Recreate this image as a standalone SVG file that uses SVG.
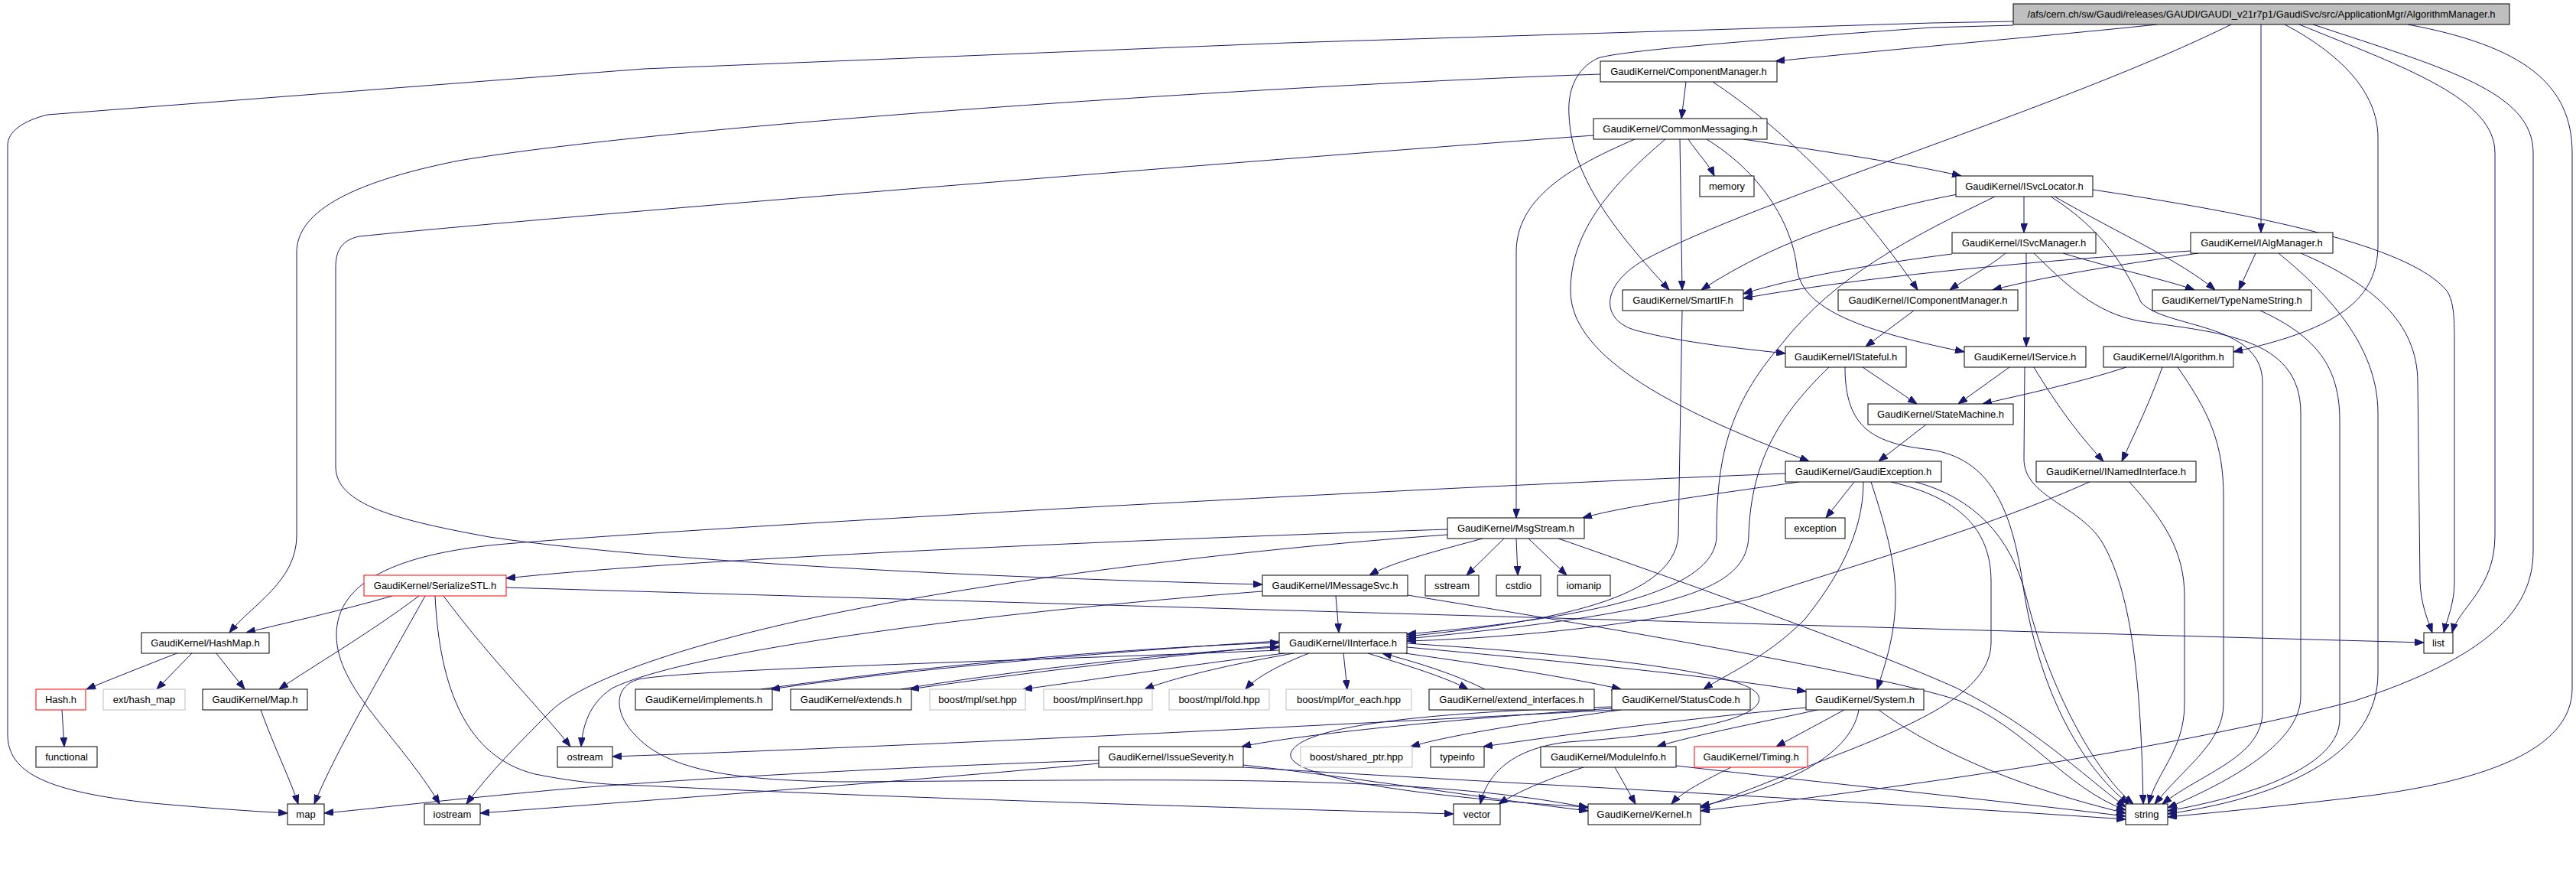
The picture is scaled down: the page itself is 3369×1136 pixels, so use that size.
<svg xmlns="http://www.w3.org/2000/svg" width="3369" height="1136" viewBox="0 0 3369 1136">
<defs>
<marker id="ah" markerWidth="12" markerHeight="9" refX="12" refY="4.5" orient="auto" markerUnits="userSpaceOnUse"><path d="M0,0 L12,4.5 L0,9 z" fill="#191970" stroke="#191970" stroke-width="1"/></marker>
<style>
.n rect{fill:#fff;stroke:#000;stroke-width:1}
.n.g rect{stroke:#bfbfbf}
.n.r rect{stroke:#ff0000}
.n.top rect{fill:#bfbfbf;stroke:#000}
text{font-family:"Liberation Sans",Arial,sans-serif;font-size:13px;text-anchor:middle;fill:#000}
.e path{fill:none;stroke:#191970;stroke-width:1;marker-end:url(#ah)}
</style>
</defs>
<rect x="0" y="0" width="3369" height="1136" fill="#fff"/>
<g id="edges" class="e">
<path d="M2633,28 L2526,30 L1684,56 L842,90 L62,150 C30,158 10,172 10,190 L10,960 C10,1010 60,1035 200,1050 C290,1058 340,1061 376,1063"/>
<path d="M2633,33 L2526,36 C2300,52 2120,66 2090,76 C2060,90 2050,120 2052,150 C2055,230 2110,300 2183,379"/>
<path d="M2821,32 C2700,45 2500,62 2322,80"/>
<path d="M2918,32 C2700,140 2300,260 2150,340 C2090,375 2095,420 2140,432 C2200,448 2280,456 2335,462"/>
<path d="M2957,32 L2957,304"/>
<path d="M2988,32 C3060,70 3110,120 3110,180 L3110,320 C3110,390 3060,430 2921,460"/>
<path d="M3007,32 C3150,90 3263,130 3263,200 L3263,700 C3263,770 3215,795 3207,827"/>
<path d="M3025,32 C3200,90 3313,120 3313,200 L3313,720 C3313,800 3250,860 3080,916 C2800,990 2400,1040 2224,1060"/>
<path d="M3149,32 C3300,60 3364,110 3364,200 L3364,900 C3364,980 3250,1020 3100,1040 C3000,1052 2900,1062 2835,1068"/>
<path d="M2093,97 C1700,110 900,160 600,210 C450,240 388,280 388,330 L388,700 C388,760 330,790 300,827"/>
<path d="M2205,107 L2199,155"/>
<path d="M2240,107 C2320,160 2420,250 2508,379"/>
<path d="M2084,177 C1700,205 700,285 470,309 C445,314 439,330 439,350 L439,610 C439,660 520,680 640,702 C900,740 1400,758 1651,764"/>
<path d="M2138,182 C2050,220 1983,260 1983,330 L1983,677"/>
<path d="M2178,182 C2110,240 2054,300 2054,380 C2054,470 2200,540 2366,603"/>
<path d="M2197,182 L2200,379"/>
<path d="M2208,182 C2220,200 2235,215 2242,230"/>
<path d="M2232,182 C2310,230 2345,300 2350,350 C2356,400 2420,430 2569,460"/>
<path d="M2280,182 C2400,200 2500,215 2565,230"/>
<path d="M2560,254 C2450,275 2330,310 2225,379"/>
<path d="M2609,257 C2500,310 2400,360 2330,450 C2260,530 2245,600 2245,700 C2245,780 2050,810 1840,829"/>
<path d="M2647,257 L2647,304"/>
<path d="M2687,257 C2780,310 2850,340 2897,379"/>
<path d="M2682,257 C2750,300 2780,350 2800,395 C2830,430 2959,420 2959,500 L2959,930 C2959,990 2880,1010 2828,1051"/>
<path d="M2737,248 C2950,280 3150,320 3200,380 C3210,395 3210,420 3210,450 L3210,760 C3210,790 3200,810 3196,827"/>
<path d="M2553,332 C2450,345 2350,362 2280,384"/>
<path d="M2623,331 C2600,350 2570,365 2550,379"/>
<path d="M2650,331 L2650,453"/>
<path d="M2698,331 C2760,350 2830,365 2870,379"/>
<path d="M2660,331 C2700,370 2740,410 2800,420 C2900,435 3009,440 3009,540 L3009,910 C3009,970 2920,1020 2835,1056"/>
<path d="M2865,328 C2600,345 2400,368 2280,390"/>
<path d="M2875,331 C2780,345 2680,360 2606,379"/>
<path d="M2950,331 L2928,379"/>
<path d="M2980,331 C3040,380 3110,450 3110,540 L3110,880 C3110,980 3000,1040 2835,1064"/>
<path d="M3009,331 C3100,370 3162,420 3162,500 L3165,760 C3166,790 3175,810 3181,827"/>
<path d="M2200,406 L2195,700 C2190,790 2000,815 1840,832"/>
<path d="M2503,406 L2440,453"/>
<path d="M2956,406 C3030,440 3060,480 3060,550 L3060,940 C3060,1000 2950,1040 2835,1060"/>
<path d="M2392,480 C2330,540 2290,600 2287,700 C2285,770 2200,800 1840,835"/>
<path d="M2436,480 L2507,528"/>
<path d="M2413,480 C2413,560 2450,580 2526,588 C2600,600 2630,660 2645,760 C2665,900 2720,1000 2784,1051"/>
<path d="M2628,480 L2561,528"/>
<path d="M2660,480 C2690,530 2720,570 2751,603"/>
<path d="M2648,480 L2647,600 C2647,650 2720,660 2750,710 C2790,780 2800,900 2803,1051"/>
<path d="M2781,480 C2720,500 2650,515 2593,528"/>
<path d="M2828,480 C2810,530 2790,570 2775,603"/>
<path d="M2848,480 C2890,540 2908,580 2908,650 L2908,920 C2908,970 2860,1000 2818,1051"/>
<path d="M2519,555 L2457,603"/>
<path d="M2735,629 C2600,690 2420,740 2300,780 C2150,820 1950,835 1840,838"/>
<path d="M2784,629 C2830,680 2857,720 2857,780 L2857,920 C2857,980 2820,1010 2810,1051"/>
<path d="M2335,619 C1800,640 900,690 650,712 C520,725 440,760 440,830 C440,900 520,960 575,1051"/>
<path d="M2353,630 C2250,645 2130,660 2070,677"/>
<path d="M2425,630 L2388,677"/>
<path d="M2437,630 C2437,700 2400,760 2360,810 C2310,860 2260,880 2228,901"/>
<path d="M2447,630 C2470,700 2479,740 2479,780 C2479,830 2465,870 2455,901"/>
<path d="M2473,630 C2560,650 2604,690 2604,760 L2604,840 C2604,900 2520,940 2420,980 C2330,1015 2270,1040 2224,1056"/>
<path d="M2505,630 C2580,650 2630,700 2650,780 C2680,900 2740,1010 2790,1051"/>
<path d="M1893,692 C1500,705 900,730 662,756"/>
<path d="M1893,699 C1600,720 1300,760 1100,800 C900,840 760,890 720,930 C680,970 640,1010 610,1051"/>
<path d="M1939,704 C1880,720 1820,735 1791,752"/>
<path d="M1967,704 L1918,752"/>
<path d="M1983,704 L1985,752"/>
<path d="M1999,704 L2049,752"/>
<path d="M2038,704 C2200,760 2450,850 2560,900 C2660,950 2720,1010 2780,1055"/>
<path d="M1747,779 L1751,827"/>
<path d="M1841,778 C2100,820 2450,880 2560,915 C2650,950 2700,1030 2780,1059"/>
<path d="M1651,773 C1300,800 900,850 800,900 C770,920 762,950 760,976"/>
<path d="M513,779 C440,800 370,815 322,827"/>
<path d="M548,779 C480,830 410,870 365,901"/>
<path d="M556,779 C500,880 440,980 411,1051"/>
<path d="M580,779 C640,860 710,930 746,976"/>
<path d="M569,779 C575,900 610,990 700,1012 C760,1024 800,1026 842,1027 C1200,1045 1700,1058 1901,1064"/>
<path d="M662,768 C1000,778 2500,822 3170,840"/>
<path d="M234,853 C190,870 140,890 113,901"/>
<path d="M252,853 L205,901"/>
<path d="M282,853 L320,901"/>
<path d="M81,928 L84,976"/>
<path d="M341,928 C360,980 380,1020 390,1051"/>
<path d="M1673,838 C1400,855 1150,880 1008,901"/>
<path d="M995,901 C1200,872 1450,848 1673,840"/>
<path d="M1673,844 C1500,860 1300,885 1190,901"/>
<path d="M1178,901 C1350,873 1550,852 1673,846"/>
<path d="M1680,854 C1550,870 1420,890 1338,901"/>
<path d="M1692,854 C1600,870 1530,888 1497,901"/>
<path d="M1712,854 C1670,870 1640,888 1629,901"/>
<path d="M1757,854 L1762,901"/>
<path d="M1789,854 C1840,870 1890,885 1920,901"/>
<path d="M1942,901 C1900,880 1850,865 1808,854"/>
<path d="M1838,854 C1950,870 2050,885 2120,901"/>
<path d="M1840,846 C2050,865 2250,885 2362,904"/>
<path d="M1673,850 C1300,865 900,875 835,888 C800,898 805,935 830,960 C870,1005 950,1020 1100,1022 C1500,1020 1850,1010 2077,1056"/>
<path d="M1840,841 C2100,858 2290,880 2300,910 C2310,940 2200,960 2050,970 C1980,978 1945,1010 1936,1051"/>
<path d="M2112,928 C1700,950 1200,975 801,989"/>
<path d="M2120,928 C2000,945 1900,960 1845,976"/>
<path d="M2108,926 C1900,940 1700,960 1624,976"/>
<path d="M2108,924 C1900,930 1700,945 1688,985 C1680,1020 1900,1045 2077,1055"/>
<path d="M2412,928 L2323,976"/>
<path d="M2377,928 C2300,945 2220,960 2167,976"/>
<path d="M2362,925 C2200,940 2050,960 1940,976"/>
<path d="M2431,928 C2420,990 2330,1030 2224,1054"/>
<path d="M2457,928 C2500,960 2600,1020 2780,1063"/>
<path d="M2071,1003 C2020,1020 1985,1035 1960,1051"/>
<path d="M2112,1003 L2139,1051"/>
<path d="M2192,1001 C2400,1025 2600,1045 2780,1067"/>
<path d="M2264,1003 C2230,1020 2200,1035 2186,1051"/>
<path d="M1437,994 C1100,1005 800,1025 700,1035 C560,1048 480,1058 424,1063"/>
<path d="M1437,998 C1200,1020 800,1050 628,1063"/>
<path d="M1626,1000 C1800,1020 1950,1045 2077,1060"/>
<path d="M1626,1003 C1900,1020 2400,1045 2780,1071"/>
</g>
<g id="n_top" class="n top"><rect x="2633" y="5" width="649" height="27"/><text x="2957.5" y="23">/afs/cern.ch/sw/Gaudi/releases/GAUDI/GAUDI_v21r7p1/GaudiSvc/src/ApplicationMgr/AlgorithmManager.h</text></g>
<g id="n_ComponentManager" class="n"><rect x="2093" y="80" width="231" height="27"/><text x="2208.5" y="98">GaudiKernel/ComponentManager.h</text></g>
<g id="n_CommonMessaging" class="n"><rect x="2084" y="155" width="227" height="27"/><text x="2197.5" y="173">GaudiKernel/CommonMessaging.h</text></g>
<g id="n_memory" class="n"><rect x="2223" y="230" width="71" height="27"/><text x="2258.5" y="248">memory</text></g>
<g id="n_ISvcLocator" class="n"><rect x="2558" y="230" width="179" height="27"/><text x="2647.5" y="248">GaudiKernel/ISvcLocator.h</text></g>
<g id="n_ISvcManager" class="n"><rect x="2553" y="304" width="188" height="27"/><text x="2647" y="322">GaudiKernel/ISvcManager.h</text></g>
<g id="n_IAlgManager" class="n"><rect x="2865" y="304" width="186" height="27"/><text x="2958" y="322">GaudiKernel/IAlgManager.h</text></g>
<g id="n_SmartIF" class="n"><rect x="2122" y="379" width="158" height="27"/><text x="2201" y="397">GaudiKernel/SmartIF.h</text></g>
<g id="n_IComponentManager" class="n"><rect x="2404" y="379" width="235" height="27"/><text x="2521.5" y="397">GaudiKernel/IComponentManager.h</text></g>
<g id="n_TypeNameString" class="n"><rect x="2815" y="379" width="208" height="27"/><text x="2919" y="397">GaudiKernel/TypeNameString.h</text></g>
<g id="n_IStateful" class="n"><rect x="2335" y="453" width="158" height="27"/><text x="2414" y="471">GaudiKernel/IStateful.h</text></g>
<g id="n_IService" class="n"><rect x="2569" y="453" width="159" height="27"/><text x="2648.5" y="471">GaudiKernel/IService.h</text></g>
<g id="n_IAlgorithm" class="n"><rect x="2751" y="453" width="170" height="27"/><text x="2836" y="471">GaudiKernel/IAlgorithm.h</text></g>
<g id="n_StateMachine" class="n"><rect x="2443" y="528" width="190" height="27"/><text x="2538" y="546">GaudiKernel/StateMachine.h</text></g>
<g id="n_GaudiException" class="n"><rect x="2335" y="603" width="204" height="27"/><text x="2437" y="621">GaudiKernel/GaudiException.h</text></g>
<g id="n_INamedInterface" class="n"><rect x="2663" y="603" width="209" height="27"/><text x="2767.5" y="621">GaudiKernel/INamedInterface.h</text></g>
<g id="n_MsgStream" class="n"><rect x="1893" y="677" width="179" height="27"/><text x="1982.5" y="695">GaudiKernel/MsgStream.h</text></g>
<g id="n_exception" class="n"><rect x="2335" y="677" width="78" height="27"/><text x="2374" y="695">exception</text></g>
<g id="n_SerializeSTL" class="n r"><rect x="476" y="752" width="186" height="27"/><text x="569" y="770">GaudiKernel/SerializeSTL.h</text></g>
<g id="n_IMessageSvc" class="n"><rect x="1651" y="752" width="190" height="27"/><text x="1746" y="770">GaudiKernel/IMessageSvc.h</text></g>
<g id="n_sstream" class="n"><rect x="1864" y="752" width="70" height="27"/><text x="1899" y="770">sstream</text></g>
<g id="n_cstdio" class="n"><rect x="1957" y="752" width="58" height="27"/><text x="1986" y="770">cstdio</text></g>
<g id="n_iomanip" class="n"><rect x="2037" y="752" width="69" height="27"/><text x="2071.5" y="770">iomanip</text></g>
<g id="n_HashMap" class="n"><rect x="185" y="827" width="167" height="27"/><text x="268.5" y="845">GaudiKernel/HashMap.h</text></g>
<g id="n_IInterface" class="n"><rect x="1673" y="827" width="167" height="27"/><text x="1756.5" y="845">GaudiKernel/IInterface.h</text></g>
<g id="n_list" class="n"><rect x="3170" y="827" width="38" height="27"/><text x="3189" y="845">list</text></g>
<g id="n_Hash" class="n r"><rect x="47" y="901" width="65" height="27"/><text x="79.5" y="919">Hash.h</text></g>
<g id="n_ext_hash_map" class="n g"><rect x="135" y="901" width="107" height="27"/><text x="188.5" y="919">ext/hash_map</text></g>
<g id="n_Map" class="n"><rect x="265" y="901" width="137" height="27"/><text x="333.5" y="919">GaudiKernel/Map.h</text></g>
<g id="n_implements" class="n"><rect x="831" y="901" width="179" height="27"/><text x="920.5" y="919">GaudiKernel/implements.h</text></g>
<g id="n_extends" class="n"><rect x="1034" y="901" width="158" height="27"/><text x="1113" y="919">GaudiKernel/extends.h</text></g>
<g id="n_mpl_set" class="n g"><rect x="1216" y="901" width="125" height="27"/><text x="1278.5" y="919">boost/mpl/set.hpp</text></g>
<g id="n_mpl_insert" class="n g"><rect x="1365" y="901" width="142" height="27"/><text x="1436" y="919">boost/mpl/insert.hpp</text></g>
<g id="n_mpl_fold" class="n g"><rect x="1529" y="901" width="131" height="27"/><text x="1594.5" y="919">boost/mpl/fold.hpp</text></g>
<g id="n_mpl_for_each" class="n g"><rect x="1682" y="901" width="164" height="27"/><text x="1764" y="919">boost/mpl/for_each.hpp</text></g>
<g id="n_extend_interfaces" class="n"><rect x="1869" y="901" width="216" height="27"/><text x="1977" y="919">GaudiKernel/extend_interfaces.h</text></g>
<g id="n_StatusCode" class="n"><rect x="2108" y="901" width="181" height="27"/><text x="2198.5" y="919">GaudiKernel/StatusCode.h</text></g>
<g id="n_System" class="n"><rect x="2362" y="901" width="154" height="27"/><text x="2439" y="919">GaudiKernel/System.h</text></g>
<g id="n_functional" class="n"><rect x="47" y="976" width="80" height="27"/><text x="87" y="994">functional</text></g>
<g id="n_ostream" class="n"><rect x="729" y="976" width="72" height="27"/><text x="765" y="994">ostream</text></g>
<g id="n_IssueSeverity" class="n"><rect x="1437" y="976" width="189" height="27"/><text x="1531.5" y="994">GaudiKernel/IssueSeverity.h</text></g>
<g id="n_shared_ptr" class="n g"><rect x="1701" y="976" width="146" height="27"/><text x="1774" y="994">boost/shared_ptr.hpp</text></g>
<g id="n_typeinfo" class="n"><rect x="1871" y="976" width="70" height="27"/><text x="1906" y="994">typeinfo</text></g>
<g id="n_ModuleInfo" class="n"><rect x="2015" y="976" width="177" height="27"/><text x="2103.5" y="994">GaudiKernel/ModuleInfo.h</text></g>
<g id="n_Timing" class="n r"><rect x="2216" y="976" width="148" height="27"/><text x="2290" y="994">GaudiKernel/Timing.h</text></g>
<g id="n_map" class="n"><rect x="376" y="1051" width="48" height="27"/><text x="400" y="1069">map</text></g>
<g id="n_iostream" class="n"><rect x="555" y="1051" width="73" height="27"/><text x="591.5" y="1069">iostream</text></g>
<g id="n_vector" class="n"><rect x="1901" y="1051" width="61" height="27"/><text x="1931.5" y="1069">vector</text></g>
<g id="n_Kernel" class="n"><rect x="2077" y="1051" width="147" height="27"/><text x="2150.5" y="1069">GaudiKernel/Kernel.h</text></g>
<g id="n_string" class="n"><rect x="2780" y="1051" width="55" height="27"/><text x="2807.5" y="1069">string</text></g>
</svg>
